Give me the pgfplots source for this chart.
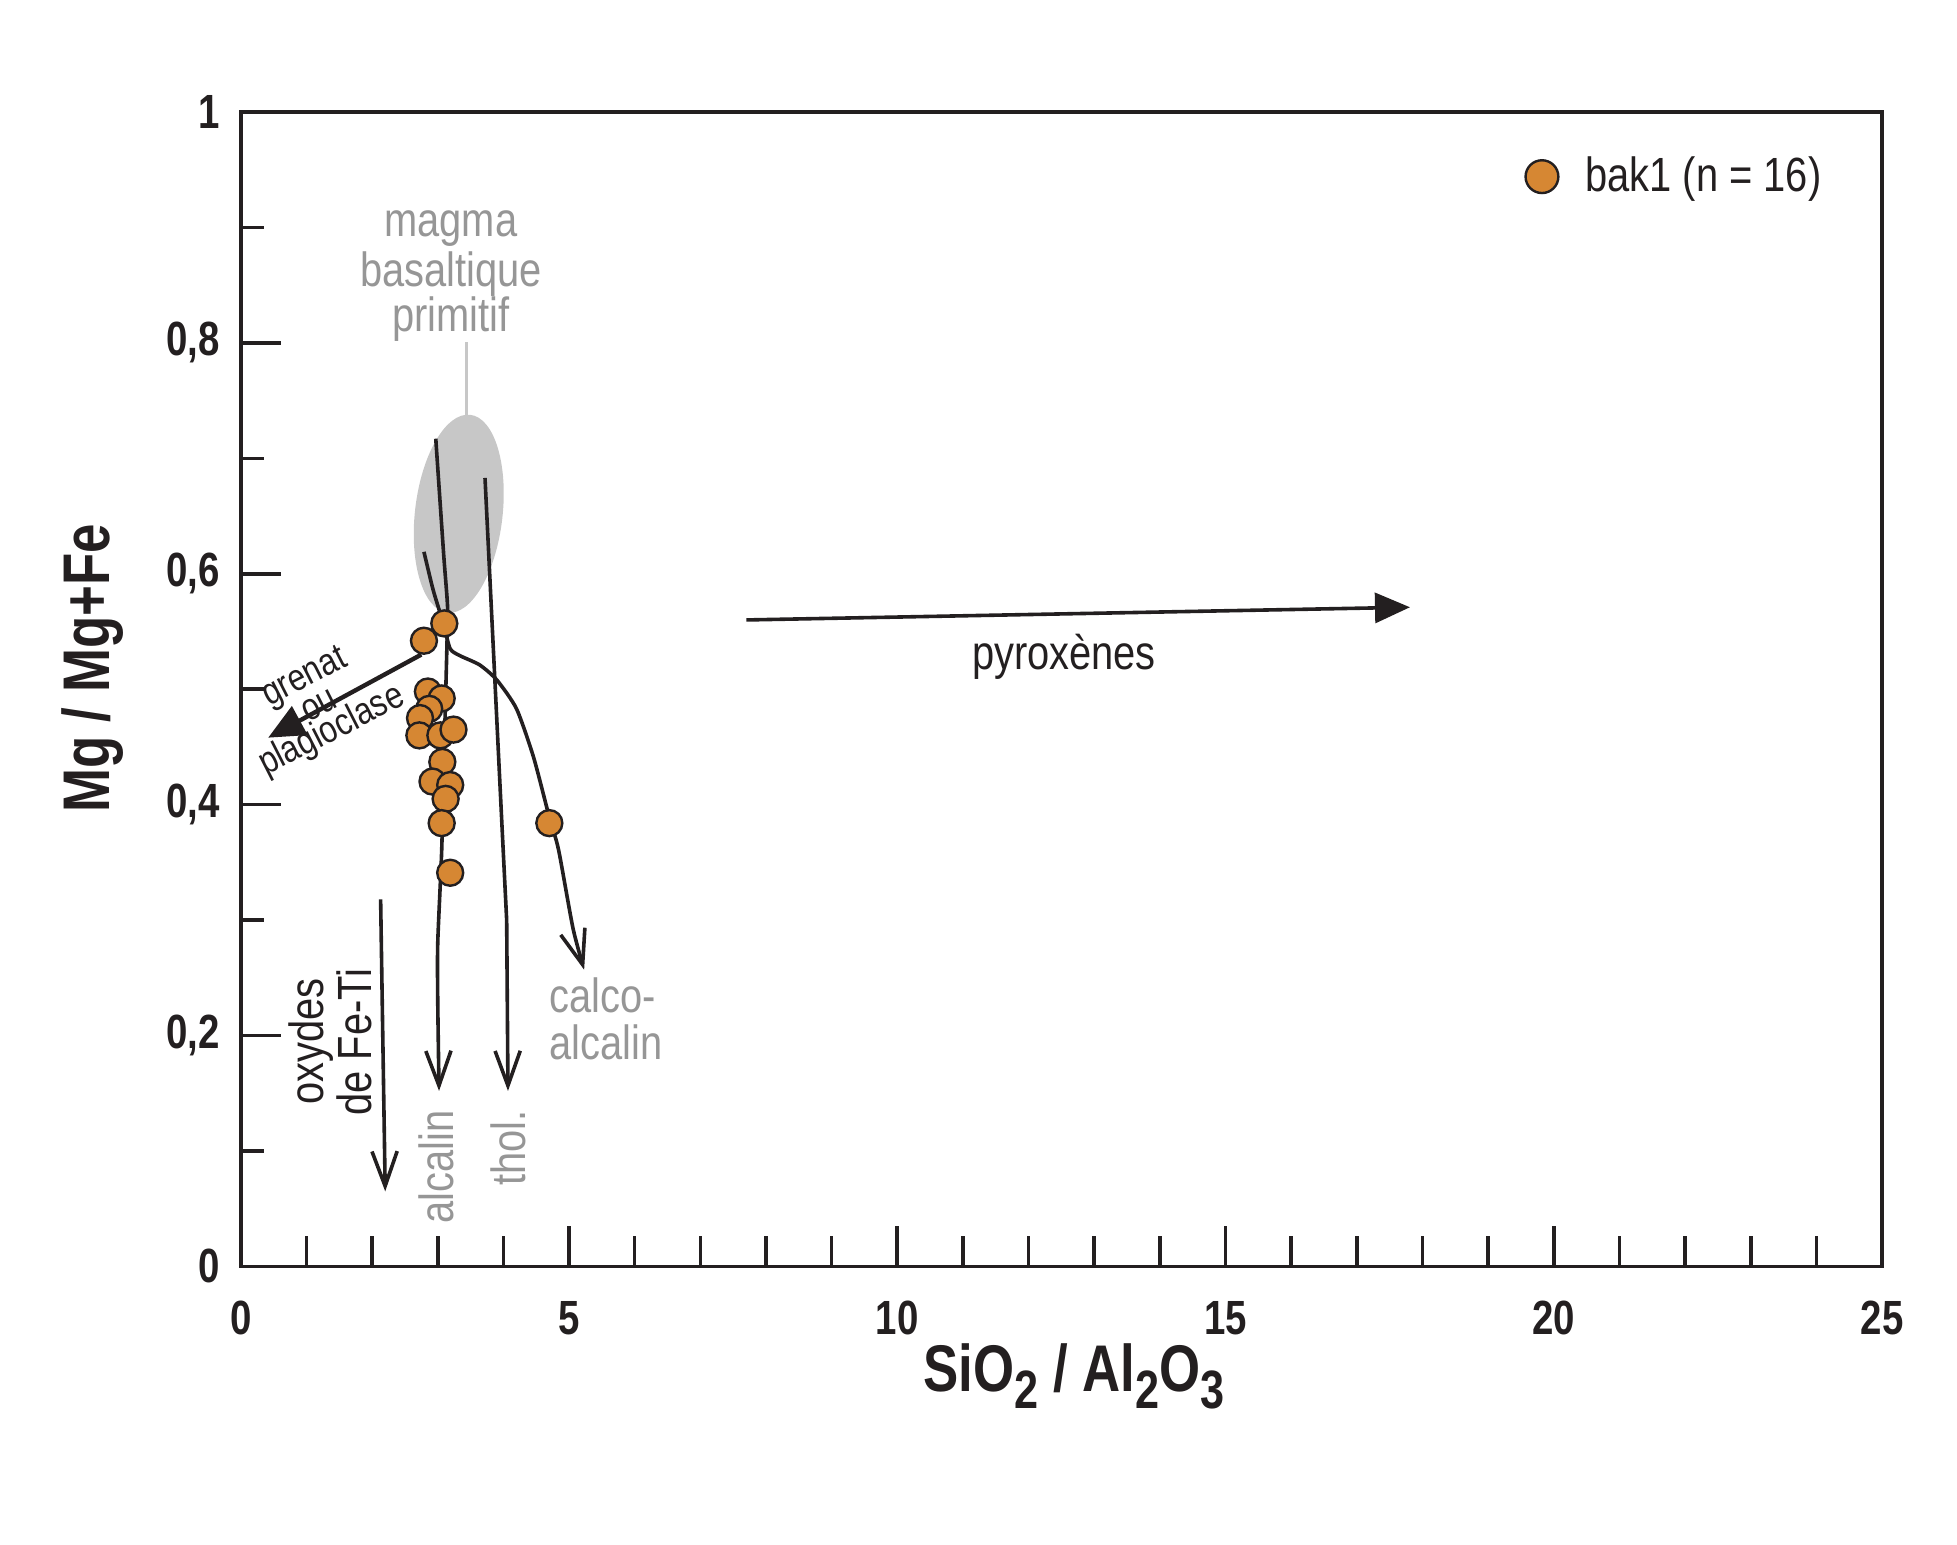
\documentclass[border=0pt]{standalone}
\usepackage{fontspec}
\setmainfont{Liberation Sans}[FakeStretch=0.83]
\newfontfamily\bcond{Liberation Sans}[FakeStretch=0.8]
\usepackage{pgfplots}
\pgfplotsset{compat=1.18}
\usetikzlibrary{arrows.meta}
\definecolor{pt}{RGB}{214,135,51}
\definecolor{ln}{RGB}{35,31,32}
\definecolor{gtxt}{RGB}{150,150,150}
\definecolor{ell}{RGB}{199,199,199}
\newcommand\sub[1]{\raisebox{-4.2pt}{\fontsize{13.5}{13.5}\selectfont #1}}

\pgfplotstableread{
x y
3.10 0.557
2.79 0.542
2.85 0.498
3.06 0.492
2.87 0.483
2.73 0.475
2.72 0.460
3.04 0.460
3.24 0.465
3.07 0.437
2.92 0.420
3.19 0.417
3.12 0.405
3.06 0.384
4.70 0.384
3.19 0.341
}\bakone

\begin{document}
\begin{tikzpicture}
\begin{axis}[name=ax, scale only axis, width=410.3pt, height=288.6pt,
  xmin=0, xmax=25, ymin=0, ymax=1,
  axis line style={line width=0.95pt, ln},
  tick pos=left, tick align=inside,
  xtick={0,5,...,25}, minor x tick num=4,
  ytick={0,0.2,0.4,0.6,0.8,1},
  extra y ticks={0.1,0.3,0.5,0.7,0.9}, extra y tick labels={},
  extra y tick style={major tick length=5.8pt},
  major tick length=10pt, minor tick length=7.5pt,
  tick style={line width=0.9pt, ln},
  /pgf/number format/use comma,
  /pgf/number format/assume math mode=true,
  tick label style={font=\bcond\bfseries\fontsize{12}{12}\selectfont, text=ln},
  yticklabel style={anchor=east, inner sep=0pt, xshift=-5pt},
  xticklabel style={anchor=base, inner sep=0pt, yshift=-17pt},
  every axis x label/.style={at={(rel axis cs:0.5076,0)}, anchor=base, yshift=-31.2pt, inner sep=0pt,
     font=\bcond\bfseries\fontsize{16.5}{16.5}\selectfont, text=ln},
  every axis y label/.style={at={(rel axis cs:0,0.518)}, xshift=-32.7pt, rotate=90, anchor=base, inner sep=0pt,
     font=\bcond\bfseries\fontsize{16.5}{16.5}\selectfont, text=ln},
  xlabel={SiO\sub{2} / Al\sub{2}O\sub{3}},
  ylabel={Mg / Mg+Fe},
  legend style={at={(0.7916,0.944)}, anchor=west, xshift=-3.6pt, draw=none, fill=none,
     inner sep=0pt, outer sep=0pt, font=\fontsize{12}{14}\selectfont, text=ln,
     nodes={inner sep=0pt},
     /tikz/every odd column/.append style={column sep=6.8pt}},
  legend image code/.code={\draw[#1, mark size=4.1pt] plot coordinates {(0pt,0pt)};},
]
% primitive basaltic magma field
\fill[ell] (axis cs:3.32,0.652) ellipse [x radius=10.95pt, y radius=24.9pt, rotate=-6.6];
\addplot[ell, line width=0.8pt, forget plot] coordinates {(3.44,0.735) (3.44,0.801)};

% samples
\addplot[only marks, mark=*, mark size=3.25pt, mark options={fill=pt, draw=ln, line width=0.6pt}] table {\bakone};
\addlegendentry{bak1 (n = 16)}

% trends
\addplot[ln, line width=0.9pt, smooth, tension=0.4, forget plot, -{Straight Barb[length=8.7pt,width=6.3pt]}]
  coordinates {(2.97,0.717) (3.09,0.617) (3.15,0.571) (3.14,0.538) (3.10,0.45) (3.06,0.36) (3.00,0.28) (3.00,0.23) (3.02,0.152)};
\addplot[ln, line width=0.9pt, forget plot, -{Straight Barb[length=8.7pt,width=6.3pt]}]
  coordinates {(3.72,0.683) (3.98,0.38) (4.05,0.30) (4.07,0.152)};
\addplot[ln, line width=0.9pt, smooth, tension=0.4, forget plot, -{Straight Barb[length=8.7pt,width=6.3pt]}]
  coordinates {(2.79,0.619) (2.93,0.586) (3.09,0.556) (3.19,0.535) (3.34,0.529) (3.64,0.521) (3.90,0.508) (4.20,0.483) (4.46,0.441) (4.70,0.389) (4.84,0.361) (5.06,0.293) (5.23,0.257)};
\addplot[ln, line width=0.9pt, forget plot, -{Straight Barb[length=8.7pt,width=6.3pt]}]
  coordinates {(2.13,0.318) (2.20,0.065)};
\addplot[ln, line width=1.1pt, forget plot, -{Triangle[length=9pt,width=8pt]}]
  coordinates {(2.75,0.530) (0.417,0.458)};
\addplot[ln, line width=0.9pt, forget plot, -{Triangle[length=8.75pt,width=7.5pt]}]
  coordinates {(7.70,0.560) (17.81,0.571)};

% annotations
\begin{scope}[every node/.style={inner sep=0pt, font=\fontsize{12}{12}\selectfont}]
\node[anchor=base, text=gtxt] at (axis cs:3.20,0.8921) {magma};
\node[anchor=base, text=gtxt] at (axis cs:3.20,0.8489) {basaltique};
\node[anchor=base, text=gtxt] at (axis cs:3.20,0.8100) {primitif};
\node[anchor=base, text=ln] at (axis cs:12.54,0.517) {pyroxènes};
\node[anchor=base west, text=gtxt] at (axis cs:4.69,0.2196) {calco-};
\node[anchor=base west, text=gtxt] at (axis cs:4.69,0.1791) {alcalin};
\node[anchor=base, rotate=90, text=gtxt] at (axis cs:3.236,0.086) {alcalin};
\node[anchor=base, rotate=90, text=gtxt] at (axis cs:4.33,0.1026) {thol.};
\node[anchor=base, rotate=90, text=ln] at (axis cs:1.255,0.1947) {oxydes};
\node[anchor=base, rotate=90, text=ln] at (axis cs:1.993,0.1943) {de Fe-Ti};
\node[anchor=center, rotate=27, align=center, text=ln, font=\fontsize{9.5}{7}\selectfont] at (axis cs:1.19,0.486) {grenat\\ou\\plagioclase};
\end{scope}
\end{axis}
\pgfresetboundingbox
\path ([xshift=-60.2pt,yshift=-69.5pt]ax.south west) rectangle ([xshift=18.75pt,yshift=28pt]ax.north east);
\end{tikzpicture}
\end{document}
